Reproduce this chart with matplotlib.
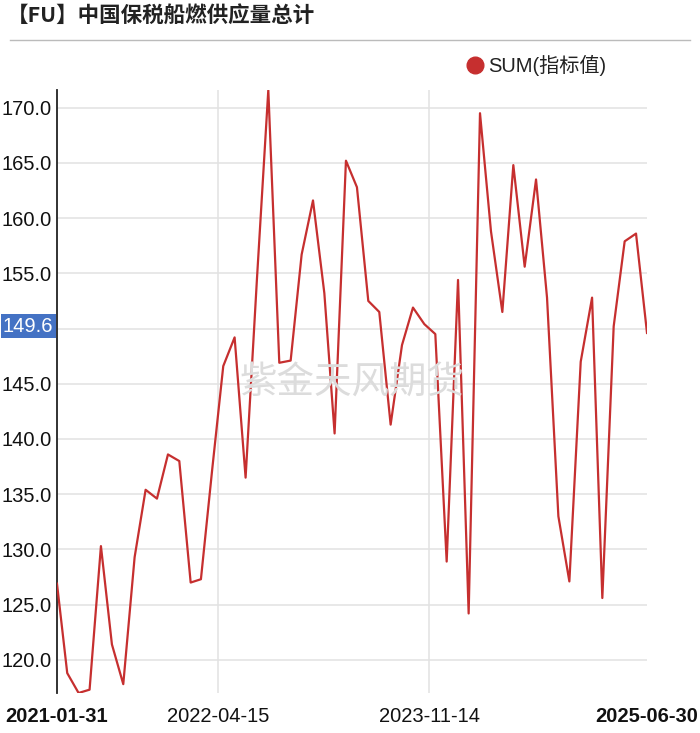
import numpy as np
import pandas as pd
import matplotlib
matplotlib.use("Agg")
import matplotlib.pyplot as plt

plt.rcParams['font.family'] = ['Liberation Sans', 'Noto Sans CJK SC', 'DejaVu Sans']

# monthly totals, 2021-01 .. 2025-06
dates = pd.date_range('2021-01-31', periods=54, freq='ME')
values = [126.9, 118.8, 117.0, 117.3, 130.3, 121.4, 117.8, 129.3, 135.4, 134.6, 138.6, 138.0,
          127.0, 127.3, 137.3, 146.6, 149.2, 136.5, 154.5, 171.6, 146.9, 147.1, 156.7, 161.6,
          153.2, 140.5, 165.2, 162.8, 152.5, 151.5, 141.3, 148.5, 151.9, 150.4, 149.5, 128.9,
          154.4, 124.2, 169.5, 158.8, 151.5, 164.8, 155.6, 163.5, 152.8, 133.0, 127.1, 147.0,
          152.8, 125.6, 150.2, 157.9, 158.6, 149.6]
series_name = 'SUM(指标值)'
title = '【FU】中国保税船燃供应量总计'
xtick_dates = ['2021-01-31', '2022-04-15', '2023-11-14', '2025-06-30']
yticks = [120, 125, 130, 135, 140, 145, 155, 160, 165, 170]

red = '#c62f2f'

fig = plt.figure(figsize=(7, 7.33), dpi=100)
ax = fig.add_axes([0.0814, 0.0546, 0.8429, 0.8226])

ax.plot(dates, values, color=red, lw=1.6, zorder=3)
ax.set_xlim(dates[0], dates[-1])
ax.set_ylim(min(values), max(values))

ax.set_yticks(yticks)
ax.set_yticklabels(['%.1f' % v for v in yticks])
xt = pd.to_datetime(xtick_dates)
ax.set_xticks(xt)
ax.set_xticklabels(xtick_dates)
for i, lab in enumerate(ax.get_xticklabels()):
    if i in (0, len(xtick_dates) - 1):
        lab.set_fontweight('bold')

ax.tick_params(axis='both', length=0, labelsize=14.5, colors='#111111')
ax.tick_params(axis='y', pad=4)
ax.tick_params(axis='x', pad=10)

# grid: horizontal everywhere, vertical only at middle dates
for v in list(yticks) + [150]:
    ax.axhline(v, color='#e2e2e2', lw=1.1, zorder=1)
for d in xt[1:-1]:
    ax.axvline(d, color='#e2e2e2', lw=1.1, zorder=1)

for s in ['top', 'right', 'bottom']:
    ax.spines[s].set_visible(False)
ax.spines['left'].set_color('#222222')
ax.spines['left'].set_linewidth(1.3)

# last value label on the y axis
ax.text(-0.006, values[-1] + 0.6, '%.1f' % values[-1], transform=ax.get_yaxis_transform(),
        ha='right', va='center', fontsize=14.5, color='white',
        bbox=dict(boxstyle='square,pad=0.12', fc='#4472c4', ec='none'))

# watermark
fig.text(0.503, 0.477, '紫金天风期货', fontsize=27, color='#dcdcdc',
         ha='center', va='center', family=['Noto Sans CJK SC'], fontweight='light', zorder=0)

# title and rule
fig.text(0.010, 0.979, title, fontsize=15.5, fontweight='bold', color='#222222',
         ha='left', va='center', family=['Noto Sans CJK SC'])
fig.add_artist(plt.Line2D([0.014, 0.986], [0.946, 0.946], color='#bbbbbb', lw=1))

# legend
fig.add_artist(plt.Line2D([0.679], [0.911], marker='o', markersize=12,
                          color=red, ls='none'))
fig.text(0.697, 0.911, series_name, fontsize=14.5, color='#222222',
         ha='left', va='center', family=['Liberation Sans', 'Noto Sans CJK SC'])

fig.savefig('out.png', dpi=100)
